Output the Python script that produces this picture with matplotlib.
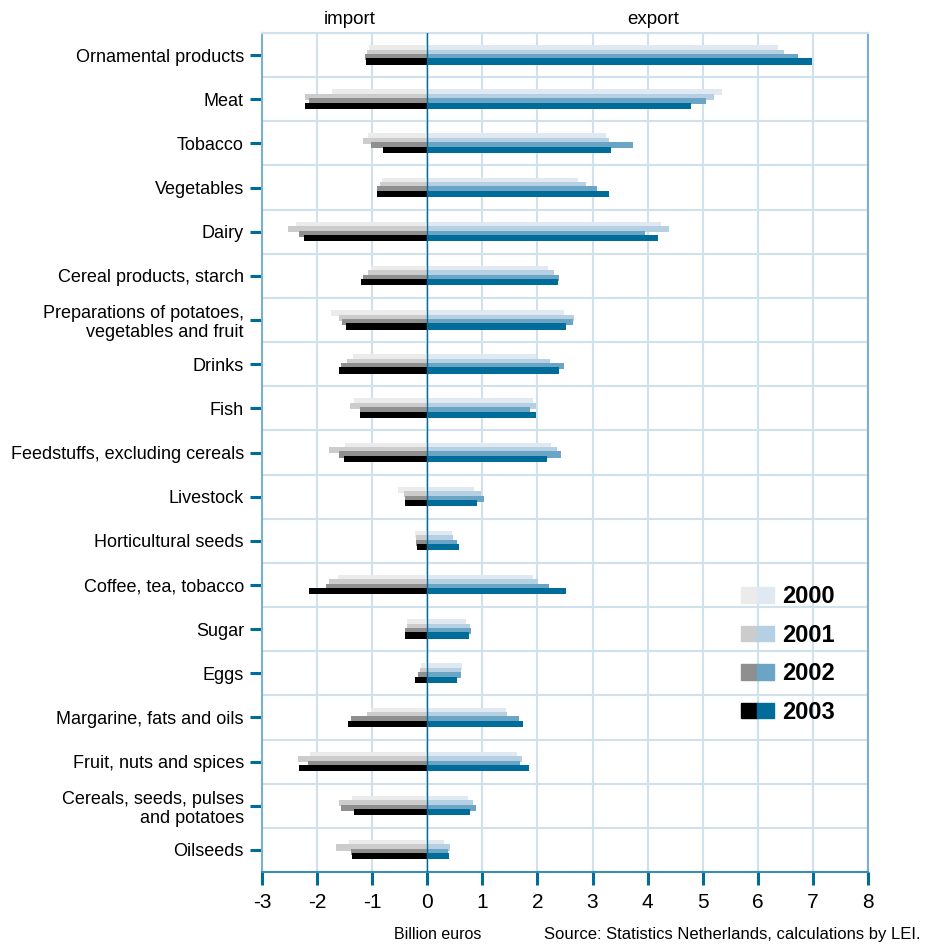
import matplotlib
matplotlib.use("Agg")
import matplotlib.pyplot as plt
import numpy as np
from matplotlib.legend_handler import HandlerTuple
from matplotlib.patches import Patch
import matplotlib.transforms as mtransforms

plt.rcParams['font.family'] = ['Liberation Sans', 'DejaVu Sans']

categories = ["Ornamental products", "Meat", "Tobacco", "Vegetables", "Dairy",
              "Cereal products, starch",
              "Preparations of potatoes,\nvegetables and fruit",
              "Drinks", "Fish", "Feedstuffs, excluding cereals", "Livestock",
              "Horticultural seeds", "Coffee, tea, tobacco", "Sugar", "Eggs",
              "Margarine, fats and oils", "Fruit, nuts and spices",
              "Cereals, seeds, pulses\nand potatoes", "Oilseeds"]
years = ["2000", "2001", "2002", "2003"]

# billion euros, import negative
imp_2000 = [-1.06, -1.73, -1.07, -0.82, -2.39, -1.02, -1.75, -1.35, -1.33, -1.50, -0.53, -0.22, -1.62, -0.37, -0.12, -1.02, -2.12, -1.37, -1.42]
imp_2001 = [-1.09, -2.22, -1.17, -0.86, -2.53, -1.08, -1.61, -1.46, -1.41, -1.79, -0.42, -0.21, -1.79, -0.37, -0.13, -1.10, -2.35, -1.61, -1.66]
imp_2002 = [-1.13, -2.15, -1.02, -0.92, -2.32, -1.17, -1.55, -1.57, -1.22, -1.61, -0.41, -0.20, -1.84, -0.41, -0.17, -1.39, -2.17, -1.57, -1.39]
imp_2003 = [-1.11, -2.22, -0.81, -0.92, -2.24, -1.21, -1.48, -1.61, -1.22, -1.52, -0.41, -0.19, -2.15, -0.41, -0.22, -1.44, -2.33, -1.33, -1.37]

exp_2000 = [6.36, 5.35, 3.24, 2.73, 4.24, 2.19, 2.48, 1.97, 1.92, 2.24, 0.85, 0.45, 1.92, 0.70, 0.63, 1.43, 1.63, 0.74, 0.30]
exp_2001 = [6.47, 5.20, 3.29, 2.89, 4.38, 2.30, 2.66, 2.22, 1.97, 2.35, 0.97, 0.47, 2.01, 0.77, 0.61, 1.44, 1.72, 0.83, 0.41]
exp_2002 = [6.73, 5.06, 3.73, 3.08, 3.95, 2.40, 2.64, 2.48, 1.86, 2.42, 1.03, 0.54, 2.21, 0.79, 0.61, 1.66, 1.68, 0.88, 0.37]
exp_2003 = [6.98, 4.79, 3.33, 3.29, 4.18, 2.37, 2.51, 2.39, 1.97, 2.17, 0.90, 0.57, 2.51, 0.76, 0.54, 1.73, 1.84, 0.77, 0.39]

imports = [imp_2000, imp_2001, imp_2002, imp_2003]
exports = [exp_2000, exp_2001, exp_2002, exp_2003]

gray_cols = ['#ebebeb', '#cccccc', '#8f8f8f', '#000000']
blue_cols = ['#e0e9f1', '#b4d0e2', '#6ba5c6', '#006c99']
dark_blue = '#006c99'
grid_col = '#d0e1ec'

offsets = [-0.155, -0.055, 0.045, 0.145]
bar_h = 0.14

fig = plt.figure(figsize=(9.3, 9.46), dpi=100)
ax = fig.add_axes([262/930, 1 - 872/946, 606/930, 839/946])

y = np.arange(len(categories))
handles = []
for i in range(4):
    ax.barh(y + offsets[i], imports[i], height=bar_h, color=gray_cols[i], lw=0, zorder=3)
    ax.barh(y + offsets[i], exports[i], height=bar_h, color=blue_cols[i], lw=0, zorder=3)
    handles.append((Patch(color=gray_cols[i]), Patch(color=blue_cols[i])))

ax.axvline(0, color=dark_blue, lw=1, zorder=4)

ax.set_xlim(-3, 8)
ax.set_ylim(len(categories) - 0.5, -0.5)
ax.set_xticks(range(-3, 9))
ax.set_xticklabels([str(v) for v in range(-3, 9)])
ax.set_yticks(y)
ax.set_yticklabels(categories, linespacing=1.15)
ax.set_yticks(np.arange(-0.5, len(categories), 1), minor=True)

ax.tick_params(axis='y', which='major', length=9, width=2.2, color=dark_blue,
               labelsize=13, pad=4)
ax.tick_params(axis='y', which='minor', length=0)
ax.tick_params(axis='x', which='major', length=9, width=2.2, color=dark_blue,
               labelsize=15, pad=6)

ax.grid(axis='x', which='major', color=grid_col, lw=1.5, zorder=0)
ax.grid(axis='y', which='minor', color=grid_col, lw=1.5, zorder=0)
ax.set_axisbelow(True)

for side in ['left', 'right']:
    ax.spines[side].set_color('#7ab0cc')
    ax.spines[side].set_linewidth(1.5)
ax.spines['top'].set_color(grid_col)
ax.spines['top'].set_linewidth(1.5)
ax.spines['bottom'].set_color('#3d8ab3')
ax.spines['bottom'].set_linewidth(1.5)

trans = mtransforms.blended_transform_factory(ax.transData, ax.transAxes)
ax.text(-1.4, 1.006, "import", transform=trans, ha='center', va='bottom', fontsize=13.5)
ax.text(4.1, 1.006, "export", transform=trans, ha='center', va='bottom', fontsize=13.5)

fig.text(438/930, 1 - 934/946, "Billion euros", ha='center', va='center', fontsize=11.5)
fig.text(920/930, 1 - 934/946, "Source: Statistics Netherlands, calculations by LEI.",
         ha='right', va='center', fontsize=12)

leg = ax.legend(handles, years, handler_map={tuple: HandlerTuple(ndivide=None, pad=0)},
                loc='upper left', bbox_to_anchor=(0.79, 0.342), frameon=False,
                prop={'family': 'Liberation Sans', 'weight': 'bold', 'size': 17},
                handlelength=1.4, handleheight=0.64, labelspacing=0.66,
                handletextpad=0.35, borderpad=0, borderaxespad=0)

fig.savefig("out.png", dpi=100)
